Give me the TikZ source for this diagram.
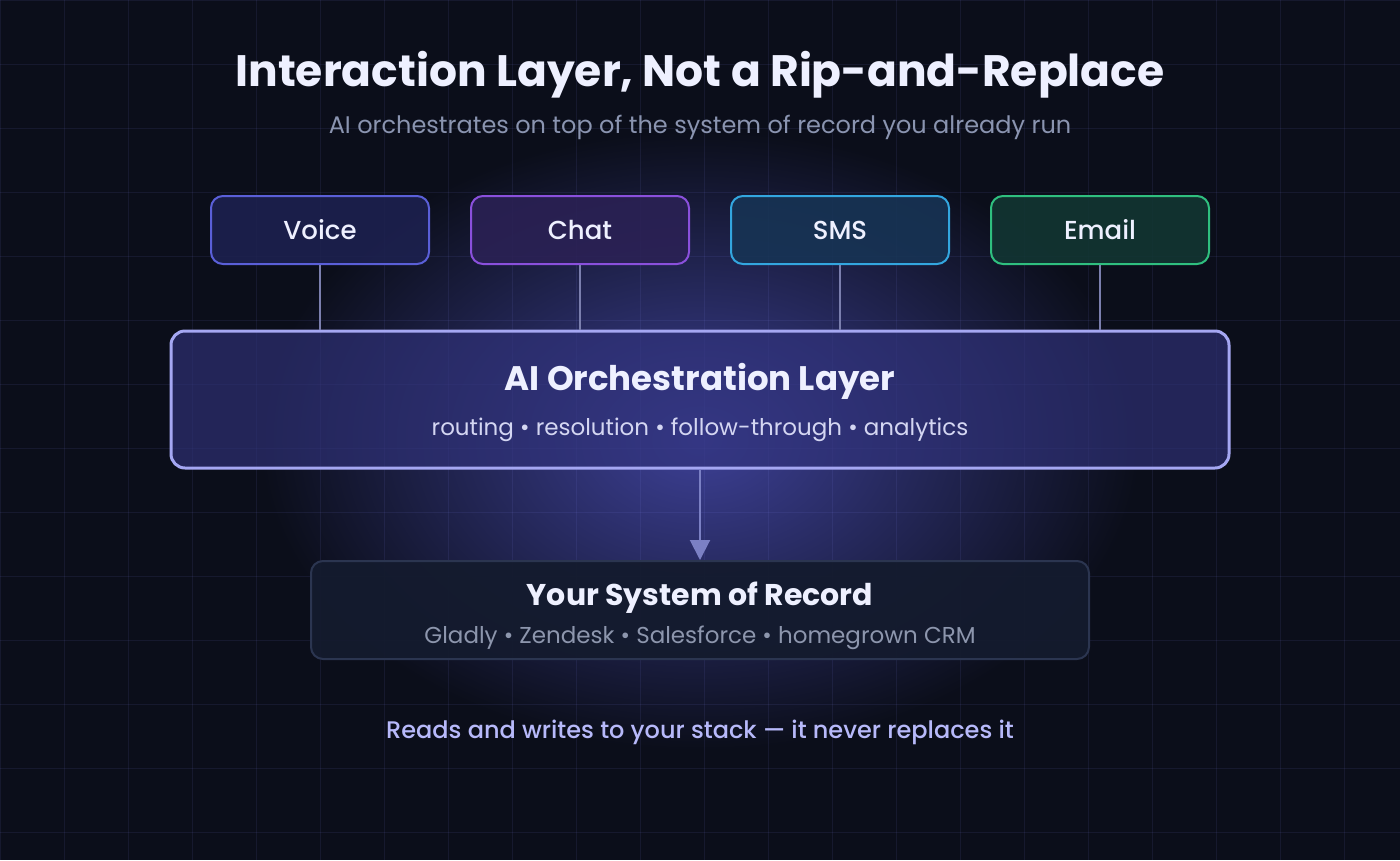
\documentclass[tikz,border=0pt]{standalone}
\usepackage{fontspec}
\setmainfont{Poppins}
\newfontfamily\medfont{Poppins Medium}
\usetikzlibrary{arrows.meta}
\definecolor{bgc}{HTML}{0B0E1A}
\definecolor{gridc}{HTML}{8C90FF}
\definecolor{glowc}{HTML}{3D4096}
\definecolor{titlec}{HTML}{EEF0FF}
\definecolor{subc}{HTML}{8A94B0}
\definecolor{voiceb}{HTML}{5A5FD8}
\definecolor{voicef}{HTML}{1D2150}
\definecolor{chatb}{HTML}{8A50DC}
\definecolor{chatf}{HTML}{2B2155}
\definecolor{smsb}{HTML}{33A6DF}
\definecolor{smsf}{HTML}{173455}
\definecolor{emailb}{HTML}{2FBF7F}
\definecolor{emailf}{HTML}{123633}
\definecolor{linkc}{HTML}{7B7FAE}
\definecolor{layerb}{HTML}{A5A7F2}
\definecolor{layerf}{HTML}{30327A}
\definecolor{layersub}{HTML}{D4D6F2}
\definecolor{flowc}{HTML}{7B80C4}
\definecolor{recordb}{HTML}{2B3550}
\definecolor{recordf}{HTML}{141B2E}
\definecolor{recordsub}{HTML}{8D96AD}
\definecolor{footc}{HTML}{B7B9FA}
\tikzset{
	gridline/.style={draw=gridc, draw opacity=0.09, line width=1pt},
	channel/.style={rounded corners=12pt, line width=2pt, minimum width=218pt, minimum height=68pt,
		fill opacity=0.88, text opacity=1, text=titlec, font=\medfont\fontsize{26}{30}\selectfont},
	link/.style={draw=linkc, line width=1.5pt},
	layerbox/.style={draw=layerb, fill=layerf, fill opacity=0.65, rounded corners=14pt, line width=3pt,
		minimum width=1058pt, minimum height=137pt},
	recordbox/.style={draw=recordb, fill=recordf, fill opacity=0.95, rounded corners=12pt, line width=2pt,
		minimum width=778pt, minimum height=98pt},
	flow/.style={draw=flowc, line width=2pt, -{Triangle[width=20pt,length=20pt]}},
	label/.style={anchor=base, inner sep=0pt}
}
\begin{document}
\begin{tikzpicture}[x=1pt,y=-1pt]
	\useasboundingbox (0,0) rectangle (1400,860);
	\fill[bgc] (0,0) rectangle (1400,860);
	% glow behind the layer
	\shade[inner color=glowc, outer color=bgc] (700,440) ellipse [x radius=440pt, y radius=310pt];
	% grid
	\foreach \gx in {0,64,...,1408}
		\draw[gridline] (\gx,0) -- (\gx,860);
	\foreach \gy in {0,64,...,896}
		\draw[gridline] (0,\gy) -- (1400,\gy);
	% heading
	\node[label, text=titlec, font=\bfseries\fontsize{44}{52}\selectfont] (title) at (700,86) {Interaction Layer, Not a Rip-and-Replace};
	\node[label, text=subc, font=\fontsize{24}{28}\selectfont] (subtitle) at (700,133) {AI orchestrates on top of the system of record you already run};
	% channels
	\node[channel, draw=voiceb, fill=voicef] (voice) at (320,230) {Voice};
	\node[channel, draw=chatb, fill=chatf] (chat) at (580,230) {Chat};
	\node[channel, draw=smsb, fill=smsf] (sms) at (840,230) {SMS};
	\node[channel, draw=emailb, fill=emailf] (email) at (1100,230) {Email};
	% orchestration layer
	\node[layerbox] (layer) at (700,399.5) {};
	\node[label, text=titlec, font=\bfseries\fontsize{34}{40}\selectfont] (layertitle) at (700,390) {AI Orchestration Layer};
	\node[label, text=layersub, font=\fontsize{23}{27}\selectfont] (layersub) at (700,435) {routing • resolution • follow-through • analytics};
	\foreach \ch in {voice,chat,sms,email}
		\draw[link] (\ch.south) -- (\ch.south |- layer.north);
	% system of record
	\node[recordbox] (record) at (700,610) {};
	\node[label, text=titlec, font=\bfseries\fontsize{30}{34}\selectfont] (recordtitle) at (700,605) {Your System of Record};
	\node[label, text=recordsub, font=\fontsize{23}{27}\selectfont] (recordsub) at (700,643) {Gladly • Zendesk • Salesforce • homegrown CRM};
	\draw[flow] (layer.south) -- (record.north);
	% footer
	\node[label, text=footc, font=\medfont\fontsize{24}{28}\selectfont] (footer) at (700,738) {Reads and writes to your stack — it never replaces it};
\end{tikzpicture}
\end{document}
